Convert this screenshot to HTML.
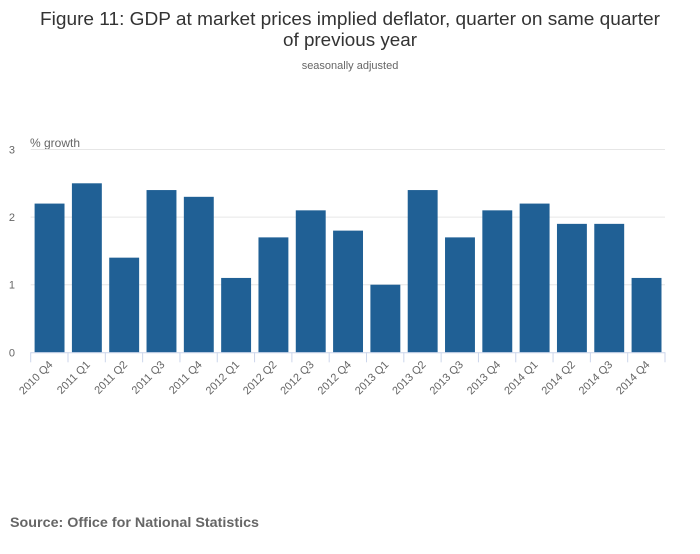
<!DOCTYPE html>
<html><head><meta charset="utf-8"><style>
body{margin:0;background:#fff;width:700px;height:549px;overflow:hidden;font-family:"Liberation Sans",sans-serif}
</style></head><body>
<svg width="700" height="549" id="c">
<text x="350" y="25" text-anchor="middle" font-size="18" fill="#333" textLength="620" lengthAdjust="spacingAndGlyphs">Figure 11: GDP at market prices implied deflator, quarter on same quarter</text>
<text x="350" y="46" text-anchor="middle" font-size="18" fill="#333" textLength="134" lengthAdjust="spacingAndGlyphs">of previous year</text>
<text x="350" y="69" text-anchor="middle" font-size="11" fill="#666">seasonally adjusted</text>
<text x="30" y="147" font-size="12" fill="#666">% growth</text>
<text x="10" y="527" font-size="14" font-weight="bold" fill="#666" textLength="249" lengthAdjust="spacingAndGlyphs">Source: Office for National Statistics</text>
<g id="g"></g>
</svg>
<script>
const categories=["2010 Q4","2011 Q1","2011 Q2","2011 Q3","2011 Q4","2012 Q1","2012 Q2","2012 Q3","2012 Q4","2013 Q1","2013 Q2","2013 Q3","2013 Q4","2014 Q1","2014 Q2","2014 Q3","2014 Q4"];
const values=[2.2,2.5,1.4,2.4,2.3,1.1,1.7,2.1,1.8,1.0,2.4,1.7,2.1,2.2,1.9,1.9,1.1];
const yTicks=[0,1,2,3];
const NS="http://www.w3.org/2000/svg";
const g=document.getElementById('g');
const x0=30.7,x1=665,y0=352.3,yTop=149.5,yMax=3;
const slot=(x1-x0)/categories.length;
const ys=v=>y0-(y0-yTop)*v/yMax;
const xs=i=>x0+slot*i;
function mk(t,a){const e=document.createElementNS(NS,t);for(const k in a)e.setAttribute(k,a[k]);g.appendChild(e);return e;}
yTicks.forEach(t=>{
  if(t>0){const l=mk('line',{x1:x0,x2:x1,y1:ys(t),y2:ys(t),stroke:'#e6e6e6'});
  
  }
  const tx=mk('text',{x:15,y:ys(t)+4,'text-anchor':'end','font-size':11,fill:'#666'});
  tx.textContent=t;
  
  
});
values.forEach((v,i)=>{
  const b=mk('rect',{x:xs(i)+3.9,y:ys(v),width:slot-7.4,height:y0-ys(v),fill:'#206095'});
  
  
});
const ax=mk('line',{x1:x0,x2:x1,y1:y0+0.5,y2:y0+0.5,stroke:'#ccd6eb'});


for(let i=0;i<=categories.length;i++){
  const t=mk('line',{x1:xs(i),x2:xs(i),y1:y0,y2:y0+10,stroke:'#ccd6eb'});
  
  
}
categories.forEach((c,i)=>{
  const cx=xs(i)+slot/2+4,cy=y0+13;
  const t=mk('text',{x:cx,y:cy,'text-anchor':'end','font-size':11,fill:'#666',transform:`rotate(-45 ${cx} ${cy})`});
  t.textContent=c;
  
  
});
</script>
</body></html>
